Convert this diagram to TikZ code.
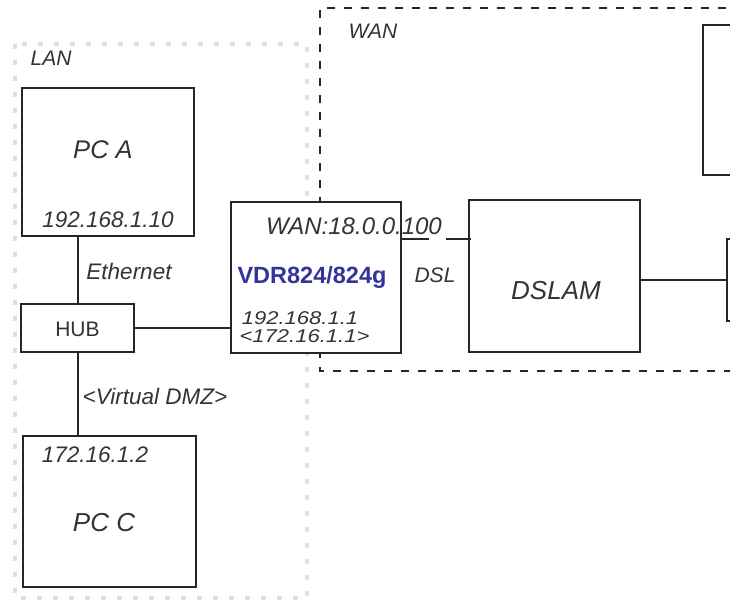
\documentclass[tikz,border=0pt]{standalone}
\usepackage{fontspec}
\setmainfont{Liberation Sans}
\usepackage{tikz}
\usetikzlibrary{calc,positioning}
\definecolor{vdrblue}{RGB}{51,51,153}

\begin{document}
\begin{tikzpicture}[x=1pt,y=-1pt,
    box/.style={draw=black!85,line width=2pt,fill=white,inner sep=0pt},
    wire/.style={draw=black!85,line width=2pt},
    lbl/.style={font=\itshape\fontsize{22.5}{22.5}\selectfont,inner sep=0pt,text=black!80},
    devname/.style={font=\itshape\fontsize{25.5}{25.5}\selectfont,inner sep=0pt,text=black!80},
    ipline/.style={lbl,font=\itshape\fontsize{18.5}{18.5}\selectfont,xscale=1.19,text height=13.5pt,text depth=0pt}]
  \clip (0,0) rectangle (730,600);
  % zones
  \draw[gray!25,line width=4pt,dash pattern=on 5pt off 11pt] (15,44) rectangle (307,598);
  \draw[black!85,line width=2pt,dash pattern=on 8pt off 9pt] (760,8) -- (320,8) -- (320,371) -- (760,371);
  \node[lbl,font=\itshape\fontsize{21}{21}\selectfont] (lanlbl) at (51,58) {LAN};
  \node[lbl,font=\itshape\fontsize{21}{21}\selectfont] (wanlbl) at (373,31) {WAN};
  % boxes
  \node[box,minimum width=172pt,minimum height=148pt] (pca) at (108,162) {};
  \node[box,minimum width=113pt,minimum height=48pt] (hub) at (77.5,328) {};
  \node[box,minimum width=173pt,minimum height=151pt] (pcc) at (109.5,511.5) {};
  \node[box,minimum width=170pt,minimum height=151pt] (vdr) at (316,277) {};
  \node[box,minimum width=171pt,minimum height=152pt] (dslam) at (554.5,276) {};
  \node[box,minimum width=100pt,minimum height=150pt,anchor=north west] (srv) at (702,24) {};
  \node[box,minimum width=60pt,minimum height=82pt,anchor=north west] (modem) at (726,238) {};
  % links
  \draw[wire] (hub.north) -- (hub.north |- pca.south);
  \draw[wire] (hub.south) -- (hub.south |- pcc.north);
  \draw[wire] (hub.east) -- (hub.east -| vdr.west);
  \draw[wire,dash pattern=on 27pt off 17pt] ($(vdr.north east)+(0,38)$) -- ($(vdr.north east)+(69,38)$) coordinate (dslin);
  \draw[wire] (modem.west) -- (modem.west -| dslam.east);
  % texts
  \node[devname] (pcatxt) at (103,150) {PC A};
  \node[lbl] (pcaip) at (108,220) {192.168.1.10};
  \node[lbl] (ethlbl) at (129,271) {Ethernet};
  \node[lbl,font=\fontsize{21}{21}\selectfont] (hubtxt) at (77.5,329) {HUB};
  \node[lbl] (dmzlbl) at (155,396) {<Virtual DMZ>};
  \node[lbl] (pccip) at (95,455) {172.16.1.2};
  \node[devname,font=\itshape\fontsize{26}{26}\selectfont] (pcctxt) at (104,523) {PC C};
  \node[lbl,font=\itshape\fontsize{24}{24}\selectfont] (wanip) at (354,226) {WAN:18.0.0.100};
  \node[lbl,font=\bfseries\fontsize{23.5}{23.5}\selectfont,text=vdrblue] (vdrtxt) at (312,277) {VDR824/824g};
  \node[ipline] (lanip) at (300,318) {192.168.1.1};
  \node[ipline] (dmzip) at (304.5,335.5) {<172.16.1.1>};
  \node[lbl,font=\itshape\fontsize{21}{21}\selectfont] (dsllbl) at (435,275) {DSL};
  \node[devname,font=\itshape\fontsize{26}{26}\selectfont] (dslamtxt) at (556,291) {DSLAM};
\end{tikzpicture}
\end{document}
